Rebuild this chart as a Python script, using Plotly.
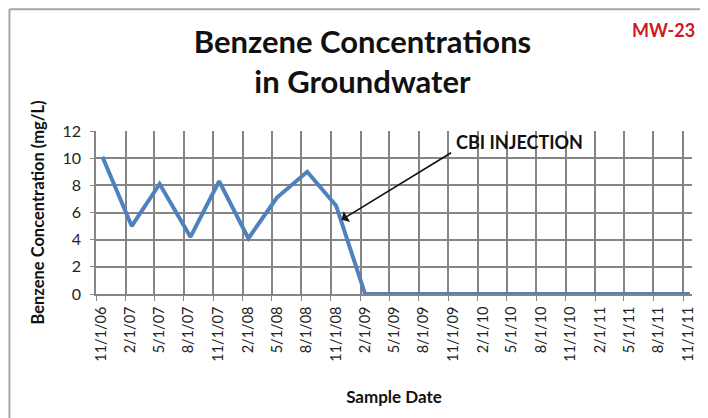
import plotly.graph_objects as go

# ---- data ----
sample_dates = [
    "2006-11-21", "2007-02-20", "2007-05-18", "2007-08-22", "2007-11-19",
    "2008-02-18", "2008-05-17", "2008-08-19", "2008-11-17", "2009-02-15",
    "2009-05-15", "2009-08-15", "2009-11-15", "2010-02-15", "2010-05-15",
    "2010-08-15", "2010-11-15", "2011-02-15", "2011-05-15", "2011-08-15",
    "2011-11-22",
]
benzene_mg_l = [10.1, 5.0, 8.1, 4.2, 8.3, 4.1, 7.1, 9.0, 6.5, 0.0,
                0.0, 0.0, 0.0, 0.0, 0.0, 0.0, 0.0, 0.0, 0.0, 0.0, 0.0]

tick_dates = [
    "2006-11-01", "2007-02-01", "2007-05-01", "2007-08-01", "2007-11-01",
    "2008-02-01", "2008-05-01", "2008-08-01", "2008-11-01", "2009-02-01",
    "2009-05-01", "2009-08-01", "2009-11-01", "2010-02-01", "2010-05-01",
    "2010-08-01", "2010-11-01", "2011-02-01", "2011-05-01", "2011-08-01",
    "2011-11-01",
]
tick_labels = [
    "11/1/06", "2/1/07", "5/1/07", "8/1/07", "11/1/07", "2/1/08", "5/1/08",
    "8/1/08", "11/1/08", "2/1/09", "5/1/09", "8/1/09", "11/1/09", "2/1/10",
    "5/1/10", "8/1/10", "11/1/10", "2/1/11", "5/1/11", "8/1/11", "11/1/11",
]
y_ticks = [0, 2, 4, 6, 8, 10, 12]

FONT = "Lato"
GRID = "#858585"

fig = go.Figure()
fig.add_trace(go.Scatter(
    x=sample_dates, y=benzene_mg_l, mode="lines",
    line=dict(color="#4f81bd", width=4),
    showlegend=False, hoverinfo="x+y",
))

fig.update_layout(
    width=700, height=410,
    margin=dict(l=88, r=13, t=123, b=124),
    paper_bgcolor="white", plot_bgcolor="white",
    font=dict(family=FONT, color="#222222"),
    title=dict(
        text="<b>Benzene Concentrations<br>in Groundwater</b>",
        x=0.5064, xanchor="center", xref="container",
        y=0.8904, yanchor="top", yref="container",
        font=dict(family=FONT, size=31, color="#111111"),
    ),
    xaxis=dict(
        type="date",
        range=["2006-11-01", "2011-11-29"],
        tickmode="array", tickvals=tick_dates, ticktext=tick_labels,
        tickangle=-90, tickfont=dict(family=FONT, size=14.5, color="#222222"),
        ticks="outside", ticklen=5, tickcolor=GRID, tickwidth=1.3,
        ticklabelshift=5,
        showgrid=True, gridcolor=GRID, gridwidth=1.5,
        showline=True, linecolor=GRID, linewidth=1.5,
        zeroline=False,
        title=dict(text="<b>Sample Date</b>",
                   font=dict(family=FONT, size=17, color="#111111"),
                   standoff=30),
    ),
    yaxis=dict(
        range=[0, 12], tickmode="array", tickvals=y_ticks,
        tickfont=dict(family=FONT, size=16, color="#222222"),
        ticks="outside", ticklen=4, tickcolor=GRID, tickwidth=1.3,
        ticklabelstandoff=6,
        showgrid=True, gridcolor=GRID, gridwidth=1.5,
        showline=True, linecolor=GRID, linewidth=1.5,
        zeroline=False,
        title=dict(text="<b>Benzene Concentration (mg/L)</b>",
                   font=dict(family=FONT, size=16.5, color="#111111"),
                   standoff=14),
    ),
)

# chart-area border (left and top edges visible in the crop)
fig.add_shape(type="line", xref="paper", yref="paper",
              x0=-0.1452, x1=-0.1452, y0=1.747, y1=-1.0,
              line=dict(color="#a6a6a6", width=2))
fig.add_shape(type="line", xref="paper", yref="paper",
              x0=-0.1452, x1=1.2, y0=1.747, y1=1.747,
              line=dict(color="#a6a6a6", width=2))

# well label
fig.add_annotation(text="<b>MW-23</b>", xref="paper", yref="paper",
                   x=1.0083, y=1.618, xanchor="right", yanchor="middle",
                   showarrow=False,
                   font=dict(family=FONT, size=18, color="#d0191f"))

# CBI injection callout: arrow + label
fig.add_annotation(text="", x="2008-12-04", y=5.46, xref="x", yref="y",
                   ax=111, ay=-68, showarrow=True,
                   arrowhead=1, arrowsize=1.3, arrowwidth=1.6,
                   arrowcolor="#111111")
fig.add_annotation(text="<b>CBI INJECTION</b>", x="2010-06-10", y=11.19,
                   xref="x", yref="y", showarrow=False,
                   xanchor="center", yanchor="middle",
                   font=dict(family=FONT, size=18, color="#111111"))

fig.write_html("out.html")
